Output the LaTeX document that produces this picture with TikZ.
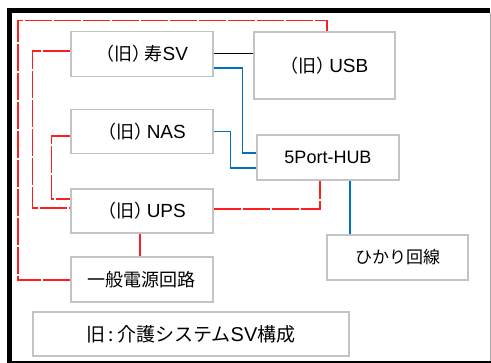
\documentclass[tikz,border=0pt]{standalone}
\usepackage{fontspec}
\setmainfont{Liberation Sans}
\newfontfamily\jp{Noto Sans CJK JP}
\usetikzlibrary{calc}
\definecolor{boxgray}{RGB}{195,195,195}
\definecolor{netblue}{RGB}{0,112,192}
\definecolor{pwrred}{RGB}{255,30,30}
\newcommand{\old}{{\jp\fontsize{18}{20}\selectfont（旧）\kern-.3em}}
\tikzset{
  unit/.style={draw=boxgray, line width=1.5pt, fill=white, inner sep=0pt,
    minimum width=142pt, minimum height=45pt, font=\fontsize{19}{22}\selectfont},
  pwr/.style={draw=pwrred, line width=1.5pt, dash pattern=on 27pt off 2pt},
  lan/.style={draw=netblue, line width=1.3pt},
}
\begin{document}
\begin{tikzpicture}[x=1pt, y=-1pt]
\useasboundingbox (0,0) rectangle (491,363);
% frame
\fill[black] (7,8) rectangle (12,363);
\fill[black] (7,8) rectangle (490,13);
\fill[black] (7,361) rectangle (491,363);
\draw[gray!70, line width=1pt] (490,13) -- (490,361);

\node[unit] (sv) at (142,54) {\old{\jp\fontsize{18}{20}\selectfont 寿}SV};
\node[unit, minimum height=44pt] (nas) at (142,131.5) {\old NAS};
\node[unit, minimum width=141pt, minimum height=67pt] (usb) at (324.5,65.5) {\old USB};
\node[unit, font=\fontsize{18}{20}\selectfont] (hub) at (328,157.5) {5Port-HUB};
\node[unit, minimum height=44pt] (ups) at (142,211) {\old UPS};
\node[unit, font=\jp\fontsize{18}{20}\selectfont] (gen) at (142,279.5) {一般電源回路};
\node[unit, minimum width=141pt, font=\jp\fontsize{17}{20}\selectfont] (hikari) at (397.5,257.5) {ひかり回線};
\node[unit, minimum width=316pt, minimum height=44pt, font=\jp\fontsize{19}{24}\selectfont] (title) at (191,334) {旧\,:\,介護システム{\rmfamily\fontsize{20}{24}\selectfont SV}構成};

% LAN
\draw[line width=1pt] (sv.east) -- (sv.east -| usb.west);
\draw[lan] ([yshift=-14pt]sv.east) -- ++(29,0) |- ([yshift=4.5pt]hub.west);
\draw[lan] (nas.east) -- ++(17,0) |- ([yshift=-10.5pt]hub.west);
\draw[lan] ([xshift=22pt]hub.south) -- ([xshift=22pt]hub.south |- hikari.north);

% power
\draw[pwr] ([yshift=2pt]ups.east) -| ([xshift=-8pt]hub.south);
\draw[pwr] ([yshift=3pt]sv.west) -- ++(-38,0) |- ([yshift=3pt]ups.west);
\draw[pwr] ([yshift=-4.5pt]nas.west) -- ++(-19,0) |- ([yshift=12pt]ups.west);
\draw[pwr] ([xshift=-2pt]ups.south) -- ([xshift=-2pt]gen.north);
\draw[pwr] ([yshift=-0.5pt]gen.west) -- ++(-52.5,0) |- ([xshift=2.5pt, yshift=10.5pt]usb.north) -- ([xshift=2.5pt]usb.north);
\end{tikzpicture}
\end{document}
